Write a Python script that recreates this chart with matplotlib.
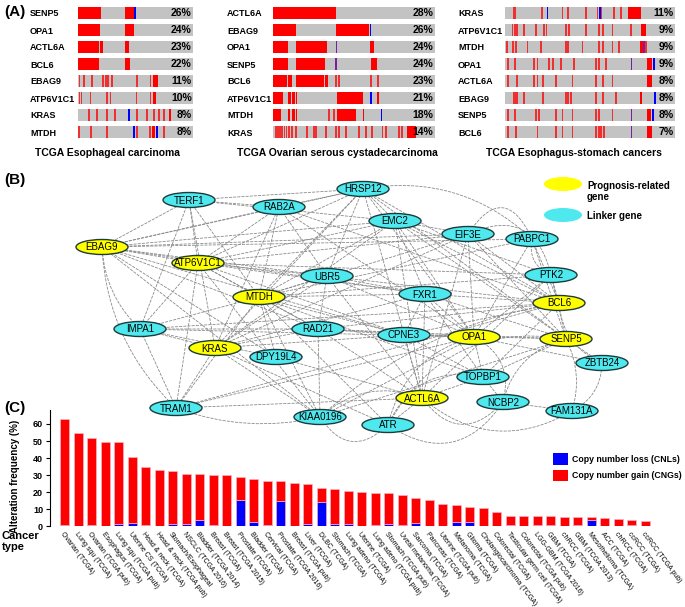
import matplotlib
matplotlib.use('Agg')
import matplotlib.pyplot as plt
import numpy as np
from matplotlib.patches import Ellipse, FancyArrowPatch, Patch

plt.rcParams['font.family'] = ['Liberation Sans', 'DejaVu Sans']

W, H = 685, 607

# ---------------- (A) oncoprint data (sample position in % of cohort) ----------------
genes_esca = ['SENP5', 'OPA1', 'ACTL6A', 'BCL6', 'EBAG9', 'ATP6V1C1', 'KRAS', 'MTDH']
pct_esca = [26, 24, 23, 22, 11, 10, 8, 8]
amp_esca = {
    'SENP5': [(0, 19.7), (40.6, 48.4)],
    'OPA1': [(0, 18.8), (40.6, 48.4)],
    'ACTL6A': [(0, 18), (19.4, 22), (40.6, 44.6)],
    'BCL6': [(0, 18.3), (40.6, 45.2)],
    'EBAG9': [0.6, 4.3, 11.6, 21.2, 23.8, 25.2, 29, 50.7, 62.3, (65.2, 69.6)],
    'ATP6V1C1': [0.6, 2.3, 10.1, 24.1, 27.5, 50.1, 62.3, (65.2, 68.1)],
    'KRAS': [8.7, 15.9, 24.6, 31.3, 50.7, 59.4, 65.2, 69.6, 73.9, (79.1, 80.9)],
    'MTDH': [0, 10.7, 24.1, 50.7, 61.7, (64, 66.7), 73.9],
}
del_esca = {'SENP5': [48.8], 'KRAS': [43.5], 'MTDH': [47.8, 68.1]}
mut_esca = {}

genes_ov = ['ACTL6A', 'EBAG9', 'OPA1', 'SENP5', 'BCL6', 'ATP6V1C1', 'MTDH', 'KRAS']
pct_ov = [28, 26, 24, 24, 23, 21, 18, 14]
amp_ov = {
    'ACTL6A': [(0, 38.6)],
    'EBAG9': [(0, 14), (38.6, 59.4)],
    'OPA1': [(0, 9.3), (14, 33.2), (59.8, 62.5)],
    'SENP5': [(0, 9.3), (14, 32), (60.2, 64.1)],
    'BCL6': [(0, 8.9), (9.5, 11.9), (14, 31.3), (32, 34), 38.1, 40.2, 59.8, 64.3],
    'ATP6V1C1': [(0, 6.4), (9.1, 10.9), (11.9, 13.4), (14, 14.8), (39.2, 55.3), (64.3, 65.4)],
    'MTDH': [(0, 4.7), (9.3, 10.3), (11.9, 13.4), (14, 14.8), 34, 37.1, (39.6, 51.1), (55.3, 56.1)],
    'KRAS': [1, 2.1, 3.1, 4.1, 5.2, 6.6, 7.8, 9.3, 11.3, 13.4, 20.6, 24.7, 25.8, 32, 38.1,
             40.2, 44.3, 52.6, 56.7, 60.8, 67, 69.1, 77.3, 79, (82.5, 88)],
}
del_ov = {'EBAG9': [59.6], 'ATP6V1C1': [59.8], 'MTDH': [66.4]}
mut_ov = {'OPA1': [38.6], 'SENP5': [38.4]}

genes_stes = ['KRAS', 'ATP6V1C1', 'MTDH', 'OPA1', 'ACTL6A', 'EBAG9', 'SENP5', 'BCL6']
pct_stes = [11, 9, 9, 9, 8, 8, 8, 7]
amp_stes = {
    'KRAS': [4.9, 5.5, 21.2, 33.3, 36.3, 36.7, 47.1, 53.9, 55.9, 63.7, 67.6, (72.5, 79.8)],
    'ATP6V1C1': [3.9, 5.5, 6.5, 10.8, 17.6, 22.5, 23.9, 35.3, 37.3, 47.1, 54.9, 56.9, 62.7, 73.5, (79.8, 82.7)],
    'MTDH': [0.6, 4.3, 5.9, 12.7, 20.6, 35.3, 36.7, 45.1, 54.9, 56.9, 62.7, 66.7, (79.4, 82), 82.4],
    'OPA1': [1, 5.5, 16.7, 18.6, 25.5, 27.5, 32.4, 40.2, 52.9, 54.9, 58.8, (83.5, 86.7)],
    'ACTL6A': [1, 6.3, 16.7, 18.6, 21.6, 29.4, 39.2, 52.9, 56.9, 62.7, (83.5, 86.7)],
    'EBAG9': [4.5, 5.5, 6.3, 10.8, 21.6, 35.3, 36.7, 38.2, 52.9, 56.9, 64.7, (79.4, 80.8)],
    'SENP5': [1, 5.5, 17.6, 19.6, 29.4, 33.3, 39.2, 52.9, 54.9, 62.7, (83.5, 85.9)],
    'BCL6': [1, 5.9, 18.6, 29.4, 33.3, 39.2, 52.9, 54.9, 55.9, 57.8, (83.5, 86.7)],
}
del_stes = {'KRAS': [24.5, 55.5], 'OPA1': [87.1], 'EBAG9': [87.6], 'SENP5': [86.7]}
mut_stes = {'OPA1': [73.9], 'SENP5': [73.9], 'BCL6': [73.9], 'MTDH': [81]}

titles_a = ['TCGA Esophageal carcinoma', 'TCGA Ovarian serous cystadecarcinoma',
            'TCGA Esophagus-stomach cancers']

# ---------------- (B) network ----------------
prognosis_genes = ['EBAG9', 'ATP6V1C1', 'MTDH', 'KRAS', 'BCL6', 'OPA1', 'SENP5', 'ACTL6A']
node_pos = {
    'TERF1': (189, 200), 'RAB2A': (279, 207), 'HRSP12': (363, 189), 'EMC2': (395, 221),
    'EIF3E': (468, 234), 'PABPC1': (532, 239), 'EBAG9': (102, 247), 'ATP6V1C1': (198, 263),
    'UBR5': (327, 276), 'PTK2': (551, 275), 'MTDH': (259, 297), 'FXR1': (425, 294),
    'BCL6': (559, 303), 'IMPA1': (140, 329), 'RAD21': (318, 329), 'CPNE3': (404, 335),
    'OPA1': (474, 337), 'SENP5': (566, 339), 'KRAS': (215, 348), 'DPY19L4': (276, 357),
    'ZBTB24': (602, 363), 'TOPBP1': (483, 377), 'ACTL6A': (422, 398), 'NCBP2': (503, 402),
    'FAM131A': (572, 411), 'TRAM1': (176, 408), 'KIAA0196': (320, 417), 'ATR': (388, 425),
}
links = {
    'EBAG9': ['TERF1', 'RAB2A', 'HRSP12', 'EMC2', 'EIF3E', 'UBR5', 'IMPA1', 'TRAM1', 'RAD21',
              'CPNE3', 'KIAA0196', 'FXR1', 'DPY19L4', 'PABPC1', 'ATP6V1C1'],
    'ATP6V1C1': ['TERF1', 'RAB2A', 'HRSP12', 'EMC2', 'EIF3E', 'UBR5', 'FXR1', 'RAD21', 'IMPA1',
                 'TRAM1', 'KIAA0196', 'CPNE3', 'PTK2', 'MTDH'],
    'MTDH': ['TERF1', 'RAB2A', 'HRSP12', 'EMC2', 'EIF3E', 'PABPC1', 'UBR5', 'FXR1', 'RAD21',
             'IMPA1', 'TRAM1', 'KIAA0196', 'CPNE3', 'DPY19L4', 'TOPBP1', 'ATR', 'PTK2'],
    'KRAS': ['TERF1', 'RAB2A', 'HRSP12', 'EMC2', 'UBR5', 'IMPA1', 'TRAM1', 'KIAA0196', 'RAD21',
             'CPNE3', 'FXR1', 'ATR', 'EIF3E'],
    'BCL6': ['HRSP12', 'EMC2', 'EIF3E', 'PABPC1', 'PTK2', 'UBR5', 'FXR1', 'CPNE3', 'RAD21',
             'TOPBP1', 'ZBTB24', 'KIAA0196', 'TRAM1', 'IMPA1', 'RAB2A'],
    'OPA1': ['HRSP12', 'EMC2', 'EIF3E', 'PABPC1', 'PTK2', 'FXR1', 'CPNE3', 'RAD21', 'TOPBP1',
             'NCBP2', 'ATR', 'KIAA0196', 'TRAM1', 'ZBTB24', 'UBR5', 'RAB2A', 'IMPA1'],
    'SENP5': ['PTK2', 'PABPC1', 'EIF3E', 'EMC2', 'FXR1', 'CPNE3', 'TOPBP1', 'NCBP2', 'ZBTB24',
              'FAM131A', 'ATR', 'KIAA0196', 'RAD21', 'HRSP12'],
    'ACTL6A': ['TOPBP1', 'NCBP2', 'ATR', 'KIAA0196', 'CPNE3', 'RAD21', 'FXR1', 'FAM131A', 'TRAM1',
               'DPY19L4', 'UBR5', 'EMC2', 'HRSP12', 'EIF3E', 'PTK2'],
}
linker_links = [('TERF1', 'RAB2A'), ('TERF1', 'HRSP12'), ('RAB2A', 'HRSP12'), ('HRSP12', 'EMC2'),
                ('EMC2', 'EIF3E'), ('EIF3E', 'PABPC1'), ('HRSP12', 'PABPC1'), ('TERF1', 'EMC2'),
                ('UBR5', 'FXR1'), ('RAD21', 'CPNE3'), ('CPNE3', 'TOPBP1'), ('TOPBP1', 'NCBP2'),
                ('NCBP2', 'FAM131A'), ('IMPA1', 'TRAM1'), ('TRAM1', 'KIAA0196'), ('KIAA0196', 'ATR'),
                ('IMPA1', 'RAD21'), ('PTK2', 'PABPC1'), ('RAD21', 'KIAA0196'), ('UBR5', 'RAD21'),
                ('FXR1', 'CPNE3'), ('EMC2', 'FXR1'), ('ATR', 'NCBP2'), ('TOPBP1', 'ATR'),
                ('IMPA1', 'DPY19L4'), ('TERF1', 'IMPA1'), ('EIF3E', 'PTK2'), ('ZBTB24', 'FAM131A'),
                ('EMC2', 'PTK2'), ('RAB2A', 'UBR5'), ('HRSP12', 'UBR5'), ('FXR1', 'TOPBP1')]
curved = {('EIF3E', 'PTK2'): -0.6, ('EIF3E', 'PABPC1'): -0.9, ('HRSP12', 'PABPC1'): -0.25,
          ('ATR', 'NCBP2'): 0.5, ('KIAA0196', 'ATR'): 0.6, ('TOPBP1', 'ATR'): 0.4,
          ('ACTL6A', 'FAM131A'): 0.35, ('ZBTB24', 'FAM131A'): -0.3, ('SENP5', 'FAM131A'): -0.2,
          ('ACTL6A', 'NCBP2'): 0.6, ('OPA1', 'ATR'): 0.3, ('SENP5', 'ATR'): 0.35,
          ('TRAM1', 'KIAA0196'): 0.15, ('EBAG9', 'TRAM1'): 0.2, ('EBAG9', 'IMPA1'): 0.2,
          ('BCL6', 'ZBTB24'): 0.3, ('PTK2', 'PABPC1'): -0.4, ('ACTL6A', 'KIAA0196'): 0.3,
          ('SENP5', 'NCBP2'): 0.3, ('OPA1', 'NCBP2'): -0.4, ('BCL6', 'KIAA0196'): 0.15}

# ---------------- (C) alteration frequencies ----------------
cancer_types = ['Ovarian (TCGA)', 'Lung squ (TCGA)', 'Ovarian (TCGA pub)', 'Esophagus (TCGA)',
                'Lung squ (TCGA pub)', 'Uterine CS (TCGA)', 'Head & neck (TCGA)',
                'Head & neck (TCGA pub)', 'Stomach/Esophageal', 'NSCLC (TCGA 2016)',
                'Bladder (TCGA 2014)', 'Breast (TCGA)', 'Breast (TCGA 2015)', 'Prostate (TCGA)',
                'Bladder (TCGA)', 'Cervical (TCGA)', 'Prostate (TCGA 2016)', 'Breast (TCGA pub)',
                'Liver (TCGA)', 'DLBC (TCGA)', 'Stomach (TCGA)', 'Lung adeno (TCGA)',
                'Uterine (TCGA)', 'Lung adeno (TCGA pub)', 'Stomach (TCGA pub)',
                'Uveal melanoma (TCGA)', 'Sarcoma (TCGA)', 'Pancreas (TCGA)', 'Uterine (TCGA pub)',
                'Melanoma (TCGA)', 'Glioma (TCGA)', 'Cholangiocarcinoma (TCGA)', 'Colorectal (TCGA)',
                'Testicular germ cell (TCGA)', 'Colorectal (TCGA pub)', 'LGG-GBM (TCGA 2016)',
                'GBM (TCGA)', 'chRCC (TCGA)', 'GBM (TCGA 2013)', 'Mesothelioma (TCGA)', 'ACC (TCGA)',
                'chRCC (TCGA)', 'ccRCC (TCGA)', 'ccRCC (TCGA pub)']
total_freq = [62.9, 54.9, 51.8, 49.2, 49.2, 40.8, 34.6, 33.2, 32.6, 30.9, 30.9, 30.3, 30.3, 29.0,
              28.0, 26.6, 26.6, 25.4, 25.0, 22.7, 21.7, 20.5, 19.9, 19.7, 19.3, 18.4, 16.4, 15.4,
              13.1, 12.5, 11.5, 10.5, 8.6, 6.3, 6.3, 6.3, 6.1, 5.7, 5.7, 5.3, 5.1, 4.3, 3.9, 3.1]
loss_freq = [0.8, 0.3, 0.8, 0.2, 1.5, 1.8, 0.8, 0.3, 1.2, 1.2, 3.7, 0.5, 0.2, 15.6, 2.3, 0.8,
             14.6, 0.2, 1.5, 14.2, 1.5, 1.5, 0.3, 0.5, 1.5, 0.8, 2.2, 0.0, 0.3, 2.7, 2.3, 0.0,
             0.3, 1.0, 0.3, 1.0, 1.0, 0.0, 0.5, 3.7, 0.0, 0.0, 0.5, 0.3]

RED = '#ff0000'
BLUE = '#0000ff'
PURPLE = '#7b1fa2'
GREY = '#c3c3c3'
YELLOW = '#ffff00'
CYAN = '#4ee9ef'


def px_box(x0, y0, x1, y1):
    # pixel box (top-left origin) -> figure fraction
    return [x0 / W, 1 - y1 / H, (x1 - x0) / W, (y1 - y0) / H]


fig = plt.figure(figsize=(W / 100, H / 100), dpi=100)

# canvas for network and free text
canvas = fig.add_axes([0, 0, 1, 1], zorder=0)
canvas.set_xlim(0, W)
canvas.set_ylim(H, 0)
canvas.axis('off')

for lab, y in [('(A)', 12), ('(B)', 180), ('(C)', 408)]:
    canvas.text(4, y, lab, fontsize=11, fontweight='bold', va='center', ha='left')

# ---- panel A ----
panels_a = [
    (genes_esca, pct_esca, amp_esca, del_esca, mut_esca, 78, 193, 30, titles_a[0], 108),
    (genes_ov, pct_ov, amp_ov, del_ov, mut_ov, 273, 435, 227, titles_a[1], 337),
    (genes_stes, pct_stes, amp_stes, del_stes, mut_stes, 505, 675, 458, titles_a[2], 574),
]
for genes, pct, amp, dele, mut, x0, x1, name_x, title, title_x in panels_a:
    ax = fig.add_axes(px_box(x0, 4.5, x1, 140.5))
    ax.set_xlim(0, 100)
    ax.set_ylim(7.5, -0.5)
    rows = np.arange(len(genes))
    hb = 0.72
    lw_u = 1.8 * 100 / (x1 - x0)
    ax.barh(rows, 100, height=hb, color=GREY, left=0)
    for r, g in enumerate(genes):
        for item in amp.get(g, []):
            if isinstance(item, tuple):
                ax.barh(r, item[1] - item[0], left=item[0], height=hb, color=RED)
            else:
                ax.barh(r, lw_u, left=item, height=hb, color='#f03030')
        for p in dele.get(g, []):
            ax.barh(r, lw_u, left=p, height=hb, color=BLUE)
        for p in mut.get(g, []):
            ax.barh(r, lw_u, left=p, height=hb, color=PURPLE)
        ax.text(99, r, f'{pct[r]}%', ha='right', va='center', fontsize=7.5, fontweight='bold')
    ax.set_yticks(rows)
    ax.set_yticklabels(genes, fontsize=6.5, fontweight='bold', ha='left')
    ax.tick_params(axis='y', length=0, pad=(x0 - name_x) * 0.72)
    ax.set_xticks([])
    for s in ax.spines.values():
        s.set_visible(False)
    canvas.text(title_x, 153, title, ha='center', va='center', fontsize=7.5, fontweight='bold')

# ---- panel B ----
edges = [(p, l) for p, ls in links.items() for l in ls] + linker_links
for a, b in edges:
    rad = curved.get((a, b), curved.get((b, a), 0.0))
    arr = FancyArrowPatch(node_pos[a], node_pos[b], arrowstyle='-',
                          connectionstyle=f'arc3,rad={rad}', color='#8a8a8a',
                          lw=0.6, linestyle=(0, (3, 2)), zorder=1)
    canvas.add_patch(arr)

for name, (x, y) in node_pos.items():
    fc = YELLOW if name in prognosis_genes else CYAN
    canvas.add_patch(Ellipse((x, y), 52, 15, facecolor=fc, edgecolor='#1d3b3b', lw=1.0, zorder=3))
    canvas.text(x, y + 0.5, name, ha='center', va='center', fontsize=7, zorder=4)

canvas.add_patch(Ellipse((563, 184), 38, 14, facecolor=YELLOW, edgecolor='none', zorder=3))
canvas.add_patch(Ellipse((563, 215), 38, 14, facecolor=CYAN, edgecolor='none', zorder=3))
canvas.text(587, 186, 'Prognosis-related', fontsize=7, fontweight='bold', va='center')
canvas.text(587, 197, 'gene', fontsize=7, fontweight='bold', va='center')
canvas.text(587, 216, 'Linker gene', fontsize=7, fontweight='bold', va='center')

# ---- panel C ----
x0_c, x1_c, y_top, y_zero = 50, 675, 410, 526.3
axc = fig.add_axes(px_box(x0_c, y_top, x1_c, y_zero), zorder=2)
axc.patch.set_alpha(0)
x = np.arange(len(cancer_types))
total = np.array(total_freq)
loss = np.array(loss_freq)
gain = total - loss
axc.bar(x, loss, width=0.69, color=BLUE, edgecolor='#f3a6c6', lw=0.5)
axc.bar(x, gain, bottom=loss, width=0.69, color=RED, edgecolor='#f7b3c8', lw=0.5)
step = 13.5
xl = -(64.7 - x0_c) / step
axc.set_xlim(xl, xl + (x1_c - x0_c) / step)
axc.set_ylim(0, (y_zero - y_top) / 1.705)
axc.set_yticks(range(0, 61, 10))
axc.set_yticklabels([str(v) for v in range(0, 61, 10)], fontsize=6.5, fontweight='bold')
axc.tick_params(axis='y', length=3, width=0.8, pad=2)
axc.set_xticks(x)
axc.set_xticklabels(cancer_types, rotation=-53, ha='left', va='top', rotation_mode='anchor',
                    fontsize=5.0)
axc.tick_params(axis='x', length=0, pad=3)
for s in ['top', 'right', 'bottom']:
    axc.spines[s].set_visible(False)
axc.spines['left'].set_linewidth(0.8)
axc.set_ylabel('Alteration frequency (%)', fontsize=7, fontweight='bold')
axc.yaxis.set_label_coords((20 - x0_c) / (x1_c - x0_c), 0.43)
canvas.text(2, 536, 'Cancer', fontsize=8, fontweight='bold', va='center')
canvas.text(2, 547, 'type', fontsize=8, fontweight='bold', va='center')

handles = [Patch(facecolor=BLUE, edgecolor='none'), Patch(facecolor=RED, edgecolor='none')]
fig.legend(handles, ['Copy number loss (CNLs)', 'Copy number gain (CNGs)'],
           loc='upper left', bbox_to_anchor=(553 / W, 1 - 453 / H), frameon=False,
           prop={'size': 6.3, 'weight': 'bold'}, handlelength=1.7, handleheight=1.7,
           labelspacing=0.55, handletextpad=0.45, borderpad=0, borderaxespad=0)

fig.savefig('out.png', dpi=100)
